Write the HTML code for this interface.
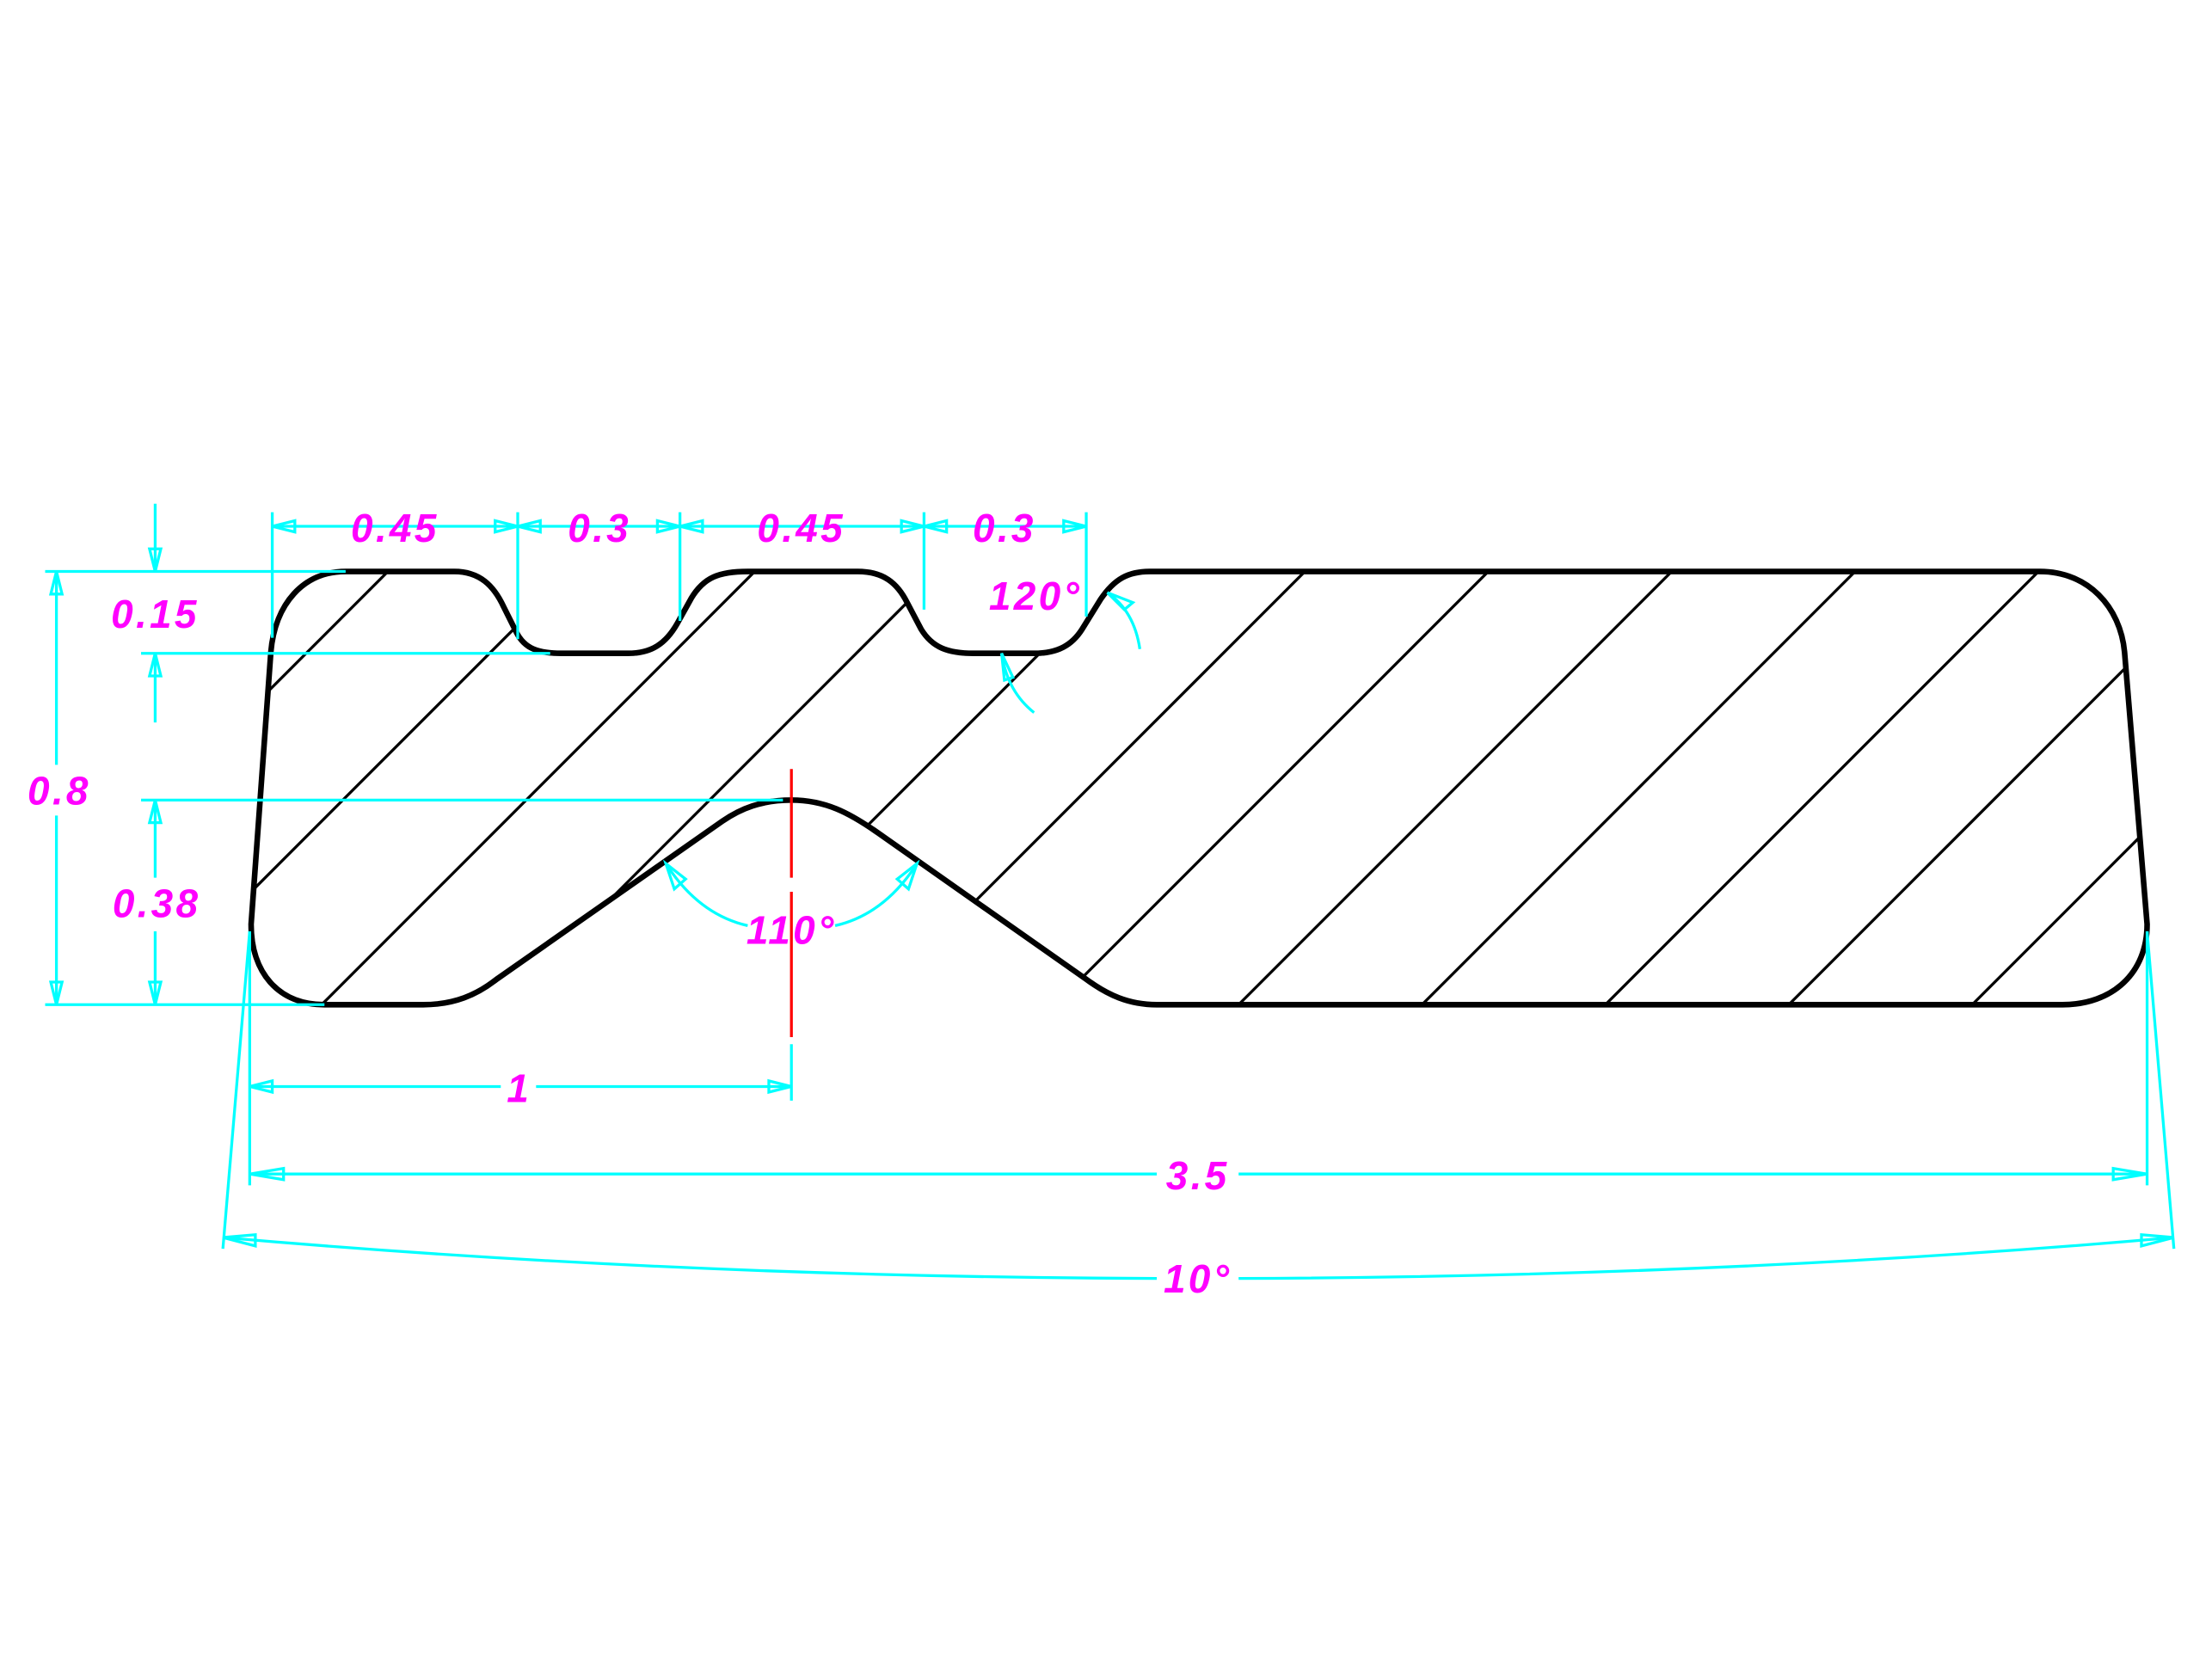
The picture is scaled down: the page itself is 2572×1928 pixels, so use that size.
<!DOCTYPE html>
<html><head><meta charset="utf-8"><style>
html,body{margin:0;padding:0;background:#fff;}
svg{display:block}
text{font-family:"Liberation Sans",sans-serif;font-style:italic;font-size:28px;fill:#ff00ff;text-anchor:middle;letter-spacing:2px}
</style></head><body>
<svg width="2572" height="1928" viewBox="0 0 1568 1175" preserveAspectRatio="none" xmlns="http://www.w3.org/2000/svg">
<defs>
<path id="outline" d="M245,405 L322,405 C340,405 350,415 357,430 L366,448 C372,460 382,463 398,463 L445,463 C462,463 472,456 480,442 L490,424 C499,409 510,405 530,405 L608,405 C626,405 636,413 643,427 L653,446 C661,459 672,463 690,463 L733,463 C750,463 760,457 767,446 L780,425 C790,410 800,405 815,405 L1446,405 C1480,405 1503,430 1506,462 L1522,655 C1522,690 1497,712 1462,712 L820,712 C800,712 785,705 770,694 L622,590 C602,576 585,567 561,567 C540,567 525,573 512,582 L352,694 C338,705 322,712 300,712 L230,712 C198,712 178,690 178,655 L192,462 C195,428 215,405 245,405 Z"/>
<clipPath id="cp"><use href="#outline"/></clipPath>
</defs>
<g clip-path="url(#cp)" stroke="#000" stroke-width="2">
<line x1="680" y1="0" x2="-20" y2="700"/>
<line x1="810" y1="0" x2="10" y2="800"/>
<line x1="940" y1="0" x2="140" y2="800"/>
<line x1="1070" y1="0" x2="270" y2="800"/>
<line x1="1200" y1="0" x2="400" y2="800"/>
<line x1="1330" y1="0" x2="530" y2="800"/>
<line x1="1460" y1="0" x2="660" y2="800"/>
<line x1="1590" y1="0" x2="790" y2="800"/>
<line x1="1720" y1="0" x2="920" y2="800"/>
<line x1="1850" y1="0" x2="1050" y2="800"/>
<line x1="1980" y1="0" x2="1180" y2="800"/>
<line x1="2110" y1="0" x2="1310" y2="800"/>
</g>
<use href="#outline" fill="none" stroke="#000" stroke-width="4" stroke-linejoin="round"/>
<g stroke="#ff0000" stroke-width="2"><line x1="561" y1="545" x2="561" y2="622"/><line x1="561" y1="632" x2="561" y2="735"/></g>
<g stroke="#00ffff" stroke-width="2" fill="none">
<line x1="193" y1="373" x2="770" y2="373"/>
<line x1="193" y1="363" x2="193" y2="452"/>
<line x1="367" y1="363" x2="367" y2="453"/>
<line x1="482" y1="363" x2="482" y2="440"/>
<line x1="655" y1="363" x2="655" y2="432"/>
<line x1="770" y1="363" x2="770" y2="437"/>
<polygon points="193,373 209,369 209,377"/>
<polygon points="367,373 351,369 351,377"/><polygon points="367,373 383,369 383,377"/>
<polygon points="482,373 466,369 466,377"/><polygon points="482,373 498,369 498,377"/>
<polygon points="655,373 639,369 639,377"/><polygon points="655,373 671,369 671,377"/>
<polygon points="770,373 754,369 754,377"/>
<line x1="32" y1="405" x2="245" y2="405"/>
<line x1="100" y1="463" x2="390" y2="463"/>
<line x1="100" y1="567" x2="555" y2="567"/>
<line x1="32" y1="712" x2="230" y2="712"/>
<line x1="40" y1="405" x2="40" y2="542"/><line x1="40" y1="578" x2="40" y2="712"/>
<polygon points="40,405 36,421 44,421"/><polygon points="40,712 36,696 44,696"/>
<line x1="110" y1="357" x2="110" y2="405"/><line x1="110" y1="463" x2="110" y2="512"/>
<polygon points="110,405 106,389 114,389"/><polygon points="110,463 106,479 114,479"/>
<line x1="110" y1="567" x2="110" y2="622"/><line x1="110" y1="660" x2="110" y2="712"/>
<polygon points="110,567 106,583 114,583"/><polygon points="110,712 106,696 114,696"/>
<line x1="177" y1="660" x2="177" y2="840"/>
<line x1="561" y1="740" x2="561" y2="780"/>
<line x1="177" y1="770" x2="355" y2="770"/><line x1="380" y1="770" x2="561" y2="770"/>
<polygon points="177,770 193,766 193,774"/><polygon points="561,770 545,766 545,774"/>
<line x1="1522" y1="660" x2="1522" y2="840"/>
<line x1="177" y1="832" x2="820" y2="832"/><line x1="878" y1="832" x2="1522" y2="832"/>
<polygon points="177,832 201,828 201,836"/><polygon points="1522,832 1498,828 1498,836"/>
<line x1="177" y1="660" x2="158" y2="885"/>
<line x1="1522" y1="660" x2="1541" y2="885"/>
<path d="M158,877 Q480,905 820,906"/><path d="M878,906 Q1220,905 1541,877"/>
<polygon points="158,877 181,875 181,883"/><polygon points="1541,877 1518,875 1518,883"/>
<path d="M472,612 Q495,648 530,656"/><path d="M592,656 Q627,648 650,612"/>
<polygon points="472,612 478,630 486,623"/><polygon points="650,612 636,623 644,630"/>
<path d="M710,463 Q714,490 733,505"/>
<polygon points="710,463 712,482 718,480"/>
<path d="M785,420 Q804,433 808,460"/>
<polygon points="785,420 797,432 803,427"/>
</g>
<g font-weight="bold">
<text x="280" y="384">0.45</text>
<text x="425" y="384">0.3</text>
<text x="568" y="384">0.45</text>
<text x="712" y="384">0.3</text>
<text x="734" y="432">120°</text>
<text x="110" y="445">0.15</text>
<text x="42" y="570">0.8</text>
<text x="111" y="650">0.38</text>
<text x="561" y="669">110°</text>
<text x="368" y="781">1</text>
<text x="849" y="843">3.5</text>
<text x="849" y="916">10°</text>
</g>
</svg>
</body></html>
